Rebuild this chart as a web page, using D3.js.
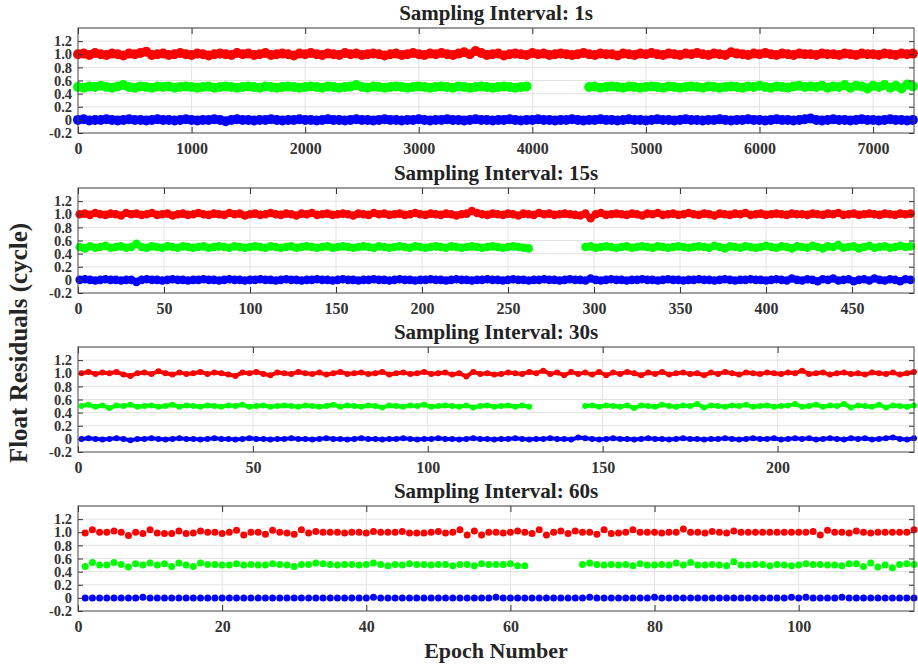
<!DOCTYPE html>
<html>
<head>
<meta charset="utf-8">
<script src="https://cdn.jsdelivr.net/npm/d3@7"></script>
<style>
  body { margin: 0; background: #fff; }
  text { font-family: "Liberation Serif", "Times New Roman", serif; font-weight: bold; }
</style>
</head>
<body>
<div id="chart"></div>
<script>
// float residuals (cycle), one array per series and panel

// 1s panel, stored every 50 epochs (0..7350)
const red1s = [
  1.00,1.01,0.99,1.02,1.00,0.99,1.01,1.00,0.98,1.01,1.00,1.02,1.04,0.99,1.00,1.01,0.99,1.00,1.02,1.00,
  0.99,1.01,1.00,0.98,1.00,1.01,1.00,0.99,1.02,1.00,1.01,0.99,1.00,1.02,0.99,1.00,1.01,1.00,0.98,1.01,
  1.00,1.02,1.00,0.99,1.01,1.00,0.99,1.02,1.00,1.01,0.99,1.00,1.01,1.00,0.98,1.00,1.01,0.99,1.00,1.02,
  1.00,0.99,1.01,1.00,1.02,1.00,0.99,1.01,1.03,1.00,1.05,1.02,0.99,1.00,1.01,0.98,1.00,1.01,1.00,0.99,
  1.02,1.00,1.01,0.99,1.00,1.01,1.00,0.99,1.00,1.02,1.00,0.99,1.01,1.00,1.00,0.98,1.01,1.00,0.99,1.01,
  1.00,1.02,1.00,0.99,1.01,1.00,0.99,1.01,1.00,1.02,1.00,0.99,1.01,1.00,0.99,1.03,1.01,1.00,0.99,1.01,
  1.00,1.02,1.00,0.99,1.01,1.00,0.99,1.01,1.00,1.00,0.99,1.01,1.00,1.00,0.99,1.01,1.00,0.99,1.01,1.00,
  1.00,0.99,1.01,1.00,0.99,1.01,1.00,1.01
];
const green1s = [
  0.50,0.49,0.51,0.50,0.52,0.50,0.49,0.51,0.53,0.50,0.49,0.51,0.50,0.49,0.51,0.50,0.51,0.49,0.50,0.51,
  0.50,0.49,0.50,0.51,0.49,0.50,0.51,0.50,0.49,0.50,0.51,0.50,0.49,0.51,0.50,0.49,0.50,0.51,0.50,0.49,
  0.50,0.51,0.50,0.49,0.51,0.50,0.49,0.50,0.51,0.53,0.50,0.49,0.51,0.50,0.49,0.50,0.51,0.50,0.49,0.50,
  0.51,0.50,0.49,0.50,0.51,0.50,0.49,0.51,0.50,0.49,0.50,0.51,0.50,0.49,0.50,0.51,0.50,0.49,0.50,0.51,
  null,null,null,null,null,null,null,null,null,null,
  0.50,0.51,0.49,0.50,0.51,0.50,0.49,0.51,0.50,0.49,0.50,0.51,0.50,0.49,0.51,0.50,0.49,0.50,0.51,0.50,
  0.49,0.51,0.50,0.49,0.50,0.51,0.50,0.49,0.51,0.50,0.52,0.50,0.49,0.51,0.50,0.49,0.51,0.52,0.50,0.51,
  0.50,0.52,0.49,0.51,0.50,0.53,0.49,0.52,0.51,0.48,0.52,0.50,0.53,0.49,0.52,0.48,0.54,0.51
];
const blue1s = [
  0.00,0.01,-0.01,0.00,0.00,0.01,0.00,-0.01,0.00,0.01,0.00,0.00,-0.01,0.00,0.01,0.00,0.00,-0.01,0.00,0.01,
  0.00,-0.01,0.00,0.00,0.01,0.00,-0.02,0.00,0.01,0.00,0.00,-0.01,0.00,0.00,0.01,0.00,-0.01,0.00,0.00,0.01,
  0.00,0.00,-0.01,0.00,0.01,0.00,0.00,-0.01,0.00,0.01,0.00,0.00,-0.01,0.00,0.01,0.00,0.00,-0.01,0.00,0.00,
  0.01,0.00,-0.01,0.00,0.00,0.01,0.00,0.00,-0.01,0.00,0.01,0.00,0.00,-0.01,0.00,0.00,0.01,0.00,-0.01,0.00,
  0.00,0.01,0.00,0.00,-0.01,0.00,0.00,0.01,0.00,-0.01,0.00,0.00,0.01,0.00,0.00,-0.01,0.00,0.01,0.00,0.00,
  -0.01,0.00,0.01,0.00,0.00,-0.01,0.00,0.01,0.00,0.00,-0.01,0.00,0.00,0.01,0.00,-0.01,0.00,0.00,0.01,0.00,
  0.00,-0.01,0.00,0.01,0.00,0.00,-0.01,0.00,0.01,0.02,0.00,-0.01,0.00,0.01,0.00,0.00,-0.01,0.00,0.01,0.00,
  0.00,-0.01,0.00,0.01,0.00,0.00,-0.01,0.00
];

// 15s panel, stored every 3 epochs (1..484)
const red15s = [
  1.00,1.01,0.99,1.02,1.00,0.99,1.01,1.00,0.98,1.02,1.00,1.01,0.99,1.00,1.02,0.99,1.00,1.01,0.98,1.00,
  1.01,0.99,1.00,1.02,1.00,0.99,1.01,1.00,0.99,1.02,1.00,1.01,0.98,1.00,1.01,0.99,1.00,1.02,1.00,0.99,
  1.01,1.00,0.98,1.01,1.00,1.02,0.99,1.00,1.01,0.99,1.00,1.01,1.00,0.98,1.01,1.00,0.99,1.02,1.00,1.01,
  0.99,1.00,1.01,0.99,1.00,1.02,1.00,0.99,1.01,1.00,0.99,1.01,1.00,0.98,1.00,1.01,1.05,1.02,1.00,0.99,
  1.01,1.00,0.99,1.01,1.00,0.98,1.01,1.00,0.99,1.02,1.00,1.01,0.99,1.00,1.01,1.00,0.99,0.98,1.01,0.94,
  1.00,1.02,0.99,1.00,1.01,1.00,0.99,1.01,1.00,0.98,1.01,1.00,1.02,0.99,1.00,1.01,0.99,1.00,1.02,1.00,
  0.99,1.01,1.00,0.98,1.01,1.00,0.99,1.01,1.00,1.02,0.99,1.00,1.01,0.99,1.00,1.01,1.00,0.99,1.01,1.00,
  1.00,0.99,1.01,1.00,0.99,1.01,1.00,1.02,0.99,1.00,1.01,0.99,1.00,1.01,1.00,0.99,1.01,1.00,0.99,1.01,
  1.00,1.01
];
const green15s = [
  0.50,0.48,0.51,0.49,0.50,0.52,0.49,0.50,0.51,0.49,0.50,0.55,0.50,0.49,0.51,0.50,0.49,0.51,0.50,0.49,
  0.51,0.50,0.49,0.50,0.51,0.49,0.50,0.51,0.50,0.49,0.51,0.50,0.49,0.50,0.51,0.50,0.49,0.51,0.50,0.49,
  0.50,0.51,0.49,0.50,0.51,0.50,0.49,0.50,0.51,0.49,0.50,0.51,0.50,0.49,0.50,0.51,0.50,0.49,0.51,0.50,
  0.49,0.50,0.51,0.50,0.49,0.51,0.50,0.49,0.50,0.51,0.50,0.49,0.51,0.50,0.49,0.50,0.51,0.50,0.49,0.50,
  0.51,0.50,0.49,0.50,0.51,0.50,0.49,0.48,null,null,null,null,null,null,null,null,null,null,0.50,0.51,
  0.49,0.50,0.51,0.50,0.49,0.50,0.51,0.49,0.50,0.51,0.50,0.49,0.51,0.50,0.49,0.50,0.51,0.50,0.49,0.50,
  0.51,0.50,0.49,0.52,0.50,0.48,0.51,0.50,0.49,0.51,0.50,0.49,0.50,0.52,0.50,0.49,0.51,0.50,0.48,0.51,
  0.50,0.49,0.52,0.50,0.48,0.51,0.50,0.53,0.49,0.50,0.51,0.48,0.50,0.52,0.49,0.50,0.51,0.49,0.50,0.52,
  0.50,0.51
];
const blue15s = [
  0.00,0.01,0.00,-0.01,0.00,0.01,0.00,0.00,-0.01,0.00,0.00,-0.03,0.00,0.01,0.00,0.00,-0.01,0.00,0.01,0.00,
  0.00,-0.01,0.00,0.00,0.01,0.00,0.00,-0.01,0.00,0.01,0.00,0.00,-0.01,0.00,0.00,0.01,0.00,0.00,-0.01,0.00,
  0.01,0.00,0.00,-0.01,0.00,0.00,0.01,0.00,0.00,-0.01,0.00,0.01,0.00,0.00,-0.01,0.00,0.00,0.01,0.00,0.00,
  -0.01,0.00,0.01,0.00,0.00,-0.01,0.00,0.00,0.01,0.00,0.00,-0.01,0.00,0.01,0.00,0.00,-0.01,0.00,0.00,0.01,
  0.00,0.00,-0.01,0.00,0.01,0.00,0.00,-0.01,0.00,0.00,0.01,0.00,0.00,-0.01,0.00,0.01,0.00,0.00,-0.01,0.02,
  0.00,-0.01,0.00,0.01,0.00,0.00,-0.01,0.00,0.00,0.01,0.00,0.00,-0.01,0.00,0.01,0.00,0.00,-0.01,0.00,0.00,
  0.01,0.00,0.00,-0.01,0.00,0.01,0.00,-0.01,0.00,0.00,0.01,0.00,0.00,-0.01,0.00,0.01,0.00,-0.01,0.02,0.00,
  -0.01,0.01,0.00,-0.02,0.01,0.00,0.02,-0.01,0.00,0.01,-0.02,0.00,0.01,-0.01,0.02,0.00,-0.01,0.01,0.00,-0.02,
  0.01,0.00
];

// 30s panel, stored every 2 epochs (1..239)
const red30s = [
  1.00,1.02,0.99,1.01,1.00,1.02,0.98,0.96,1.00,1.01,0.99,1.03,1.00,0.98,1.01,0.99,1.00,1.02,0.99,1.01,
  1.00,0.98,0.96,1.01,1.00,1.02,0.99,0.97,1.01,1.00,0.99,1.02,1.00,0.99,1.01,0.98,1.00,1.02,0.99,1.00,
  1.01,0.99,1.00,1.02,0.98,1.00,1.01,0.99,1.00,1.02,0.99,1.00,1.01,0.98,1.00,0.95,1.02,0.99,1.00,0.98,
  0.99,1.01,1.00,0.99,1.02,1.00,1.04,0.99,1.01,0.97,1.02,0.99,1.01,0.98,1.02,0.97,1.01,0.99,1.02,1.00,
  0.97,1.01,0.99,1.02,0.98,1.00,1.01,0.99,1.00,0.97,1.01,0.99,1.02,1.00,0.98,1.01,1.00,0.99,1.01,1.00,
  0.99,1.01,1.00,1.04,0.99,1.00,1.01,0.98,1.00,1.01,0.99,1.00,0.98,1.01,1.00,0.99,1.01,0.98,1.00,1.02
];
const green30s = [
  0.50,0.52,0.49,0.51,0.47,0.51,0.50,0.52,0.49,0.50,0.51,0.49,0.50,0.52,0.49,0.51,0.50,0.49,0.51,0.50,
  0.49,0.51,0.50,0.52,0.49,0.50,0.51,0.49,0.50,0.51,0.50,0.49,0.51,0.50,0.49,0.50,0.52,0.49,0.51,0.50,
  0.49,0.51,0.50,0.48,0.51,0.50,0.49,0.51,0.50,0.52,0.49,0.50,0.51,0.50,0.49,0.51,0.48,0.50,0.51,0.49,
  0.50,0.51,0.49,0.51,0.49,null,null,null,null,null,null,null,0.50,0.51,0.49,0.51,0.50,0.49,0.51,0.47,
  0.51,0.50,0.49,0.52,0.50,0.49,0.51,0.50,0.53,0.48,0.51,0.50,0.49,0.51,0.50,0.52,0.49,0.50,0.51,0.49,
  0.50,0.51,0.53,0.49,0.50,0.52,0.49,0.51,0.50,0.53,0.48,0.51,0.50,0.49,0.52,0.48,0.51,0.50,0.49,0.51
];
const blue30s = [
  0.00,0.01,0.00,-0.01,0.00,0.01,0.00,-0.02,0.00,0.00,0.01,0.00,-0.01,0.00,0.01,0.00,0.00,-0.01,0.00,0.01,
  0.00,0.00,-0.01,0.00,0.01,0.00,0.00,-0.01,0.00,0.00,0.01,0.00,0.00,-0.01,0.00,0.01,0.00,0.00,-0.01,0.00,
  0.01,0.00,0.00,-0.01,0.00,0.00,0.01,0.00,-0.01,0.00,0.00,0.01,0.00,0.00,-0.01,0.00,0.01,0.00,0.00,-0.01,
  0.00,0.00,0.01,0.00,-0.01,0.00,0.00,0.01,0.00,0.00,-0.01,0.02,0.01,0.00,-0.01,0.00,0.01,0.00,0.00,-0.01,
  0.00,0.01,0.00,0.00,-0.01,0.00,0.01,0.00,0.00,-0.01,0.00,0.00,0.01,0.00,-0.01,0.00,0.01,0.00,0.00,0.01,
  -0.01,0.00,0.01,0.00,0.01,-0.01,0.00,0.01,0.00,-0.01,0.01,0.00,0.01,-0.01,0.00,0.01,0.02,0.00,-0.01,0.01
];

// 60s panel, every epoch (1..116)
const red60s = [
  0.99,1.04,1.00,1.00,1.02,1.00,0.95,1.00,0.98,1.04,0.99,0.98,0.98,1.02,0.98,0.99,1.02,1.00,1.00,0.98,
  1.00,1.03,0.96,1.00,1.00,0.97,1.03,1.00,0.99,0.97,1.04,0.99,1.01,1.00,1.00,1.00,0.99,1.00,1.00,0.99,
  1.01,1.00,1.00,1.00,1.01,0.99,0.99,0.99,1.00,1.01,0.99,1.00,1.04,0.96,1.02,0.96,1.00,1.00,0.99,1.00,
  1.02,1.00,0.98,1.04,0.96,1.00,1.02,0.98,1.02,1.00,1.00,0.97,1.04,0.98,0.99,1.00,1.04,1.00,1.00,1.00,
  0.99,1.00,1.00,1.05,1.00,1.00,0.99,1.01,1.00,0.99,1.02,1.00,1.00,1.00,1.00,1.00,1.00,1.00,1.00,1.00,
  1.00,1.01,0.96,1.03,1.00,1.00,0.99,1.02,1.00,0.99,1.00,1.00,1.00,1.00,1.00,1.04
];
const green60s = [
  0.48,0.54,0.50,0.50,0.54,0.51,0.47,0.52,0.50,0.53,0.50,0.52,0.48,0.53,0.50,0.48,0.53,0.51,0.51,0.50,
  0.50,0.52,0.50,0.51,0.50,0.50,0.52,0.51,0.50,0.48,0.51,0.51,0.53,0.52,0.51,0.50,0.51,0.51,0.50,0.51,
  0.53,0.51,0.49,0.51,0.50,0.52,0.51,0.51,0.50,0.51,0.51,0.49,0.51,0.51,0.49,0.52,0.51,0.51,0.51,0.52,
  0.49,0.49,null,null,null,null,null,null,null,0.51,0.53,0.51,0.50,0.51,0.50,0.51,0.49,0.52,0.50,0.50,
  0.51,0.50,0.53,0.50,0.54,0.50,0.50,0.51,0.50,0.49,0.55,0.50,0.50,0.51,0.51,0.49,0.51,0.50,0.49,0.50,
  0.52,0.51,0.51,0.50,0.50,0.49,0.52,0.52,0.48,0.53,0.47,0.50,0.46,0.51,0.52,0.51
];
const blue60s = [
  0.00,0.00,0.00,0.00,0.00,0.00,0.00,0.00,0.01,0.00,0.00,0.00,0.00,0.00,0.00,0.00,0.00,0.00,0.00,0.00,
  0.00,0.00,0.00,0.00,0.00,0.00,0.00,0.00,0.00,0.00,0.00,0.00,0.00,0.00,0.00,0.00,0.00,0.00,0.00,0.00,
  0.01,0.00,0.00,0.00,0.00,0.00,0.00,0.00,0.00,0.00,0.00,0.00,0.00,0.00,0.00,0.00,0.00,0.01,0.00,0.00,
  0.00,0.00,0.00,0.00,0.00,0.00,0.00,0.00,0.00,0.00,0.01,0.00,0.00,0.00,0.00,0.00,0.00,0.00,0.00,0.01,
  0.00,0.00,0.00,0.00,0.00,0.00,0.00,0.00,0.00,0.00,0.00,0.00,0.00,0.00,0.00,0.00,0.00,0.00,0.01,0.00,
  0.01,0.00,0.00,0.00,0.00,0.01,0.00,0.00,0.00,0.00,0.00,0.00,0.00,0.00,0.00,0.00
];

const yTicks = [-0.2, 0, 0.2, 0.4, 0.6, 0.8, 1.0, 1.2];
const seriesColors = ['#ff0000', '#00ff00', '#0000ff'];

// dense panels get a joining stroke so the markers read as a solid trace
const panels = [
  { title: 'Sampling Interval: 1s', xMax: 7360, xTicks: [0,1000,2000,3000,4000,5000,6000,7000],
    epochs: d3.range(0, 7351, 50), series: [red1s, green1s, blue1s], r: 5, join: 7 },
  { title: 'Sampling Interval: 15s', xMax: 486, xTicks: [0,50,100,150,200,250,300,350,400,450],
    epochs: d3.range(1, 485, 3), series: [red15s, green15s, blue15s], r: 4.3, join: 6 },
  { title: 'Sampling Interval: 30s', xMax: 239, xTicks: [0,50,100,150,200],
    epochs: d3.range(1, 240, 2), series: [red30s, green30s, blue30s], r: 3, join: 4 },
  { title: 'Sampling Interval: 60s', xMax: 116, xTicks: [0,20,40,60,80,100],
    epochs: d3.range(1, 117), series: [red60s, green60s, blue60s], r: 3.5, join: 0 }
];

const width = 918;
const height = 666;
const left = 78, right = 914;
const panelTops = [28, 188, 347, 506];
const panelH = 105;

const svg = d3.select('#chart')
  .append('svg')
  .attr('width', width)
  .attr('height', height);

panels.forEach((p, i) => drawPanel(p, panelTops[i]));

// shared axis labels
svg.append('text')
  .attr('transform', 'translate(27,' + 343 + ') rotate(-90)')
  .attr('text-anchor', 'middle')
  .style('font-size', '25px')
  .attr('fill', '#262626')
  .text('Float Residuals (cycle)');

svg.append('text')
  .attr('x', (left + right) / 2)
  .attr('y', 658)
  .attr('text-anchor', 'middle')
  .style('font-size', '22px')
  .attr('fill', '#262626')
  .text('Epoch Number');

function drawPanel(p, top) {
  const bottom = top + panelH;
  const x = d3.scaleLinear().domain([0, p.xMax]).range([left, right]);
  const y = d3.scaleLinear().domain([-0.2, 1.4]).range([bottom, top]);

  const g = svg.append('g');

  // grid
  g.append('g').selectAll('line')
    .data(p.xTicks.slice(1))
    .join('line')
    .attr('x1', d => x(d)).attr('x2', d => x(d))
    .attr('y1', top).attr('y2', bottom)
    .attr('stroke', '#e3e3e3');
  g.append('g').selectAll('line')
    .data(yTicks.concat([1.4]).slice(1))
    .join('line')
    .attr('x1', left).attr('x2', right)
    .attr('y1', d => y(d)).attr('y2', d => y(d))
    .attr('stroke', '#e3e3e3');

  // points
  p.series.forEach((vals, k) => {
    const pts = p.epochs.map((e, j) => [e, vals[j]]);
    if (p.join > 0) {
      const line = d3.line()
        .defined(d => d[1] !== null)
        .x(d => x(d[0]))
        .y(d => y(d[1]));
      g.append('path')
        .datum(pts)
        .attr('d', line)
        .attr('fill', 'none')
        .attr('stroke', seriesColors[k])
        .attr('stroke-width', p.join)
        .attr('stroke-linejoin', 'round');
    }
    g.append('g').selectAll('circle')
      .data(pts.filter(d => d[1] !== null))
      .join('circle')
      .attr('cx', d => x(d[0]))
      .attr('cy', d => y(d[1]))
      .attr('r', p.r)
      .attr('fill', seriesColors[k]);
  });

  // axes, MATLAB style box with inward ticks
  const fmtY = d => d === 0 ? '0' : d.toFixed(1);
  const xb = g.append('g').attr('transform', 'translate(0,' + bottom + ')')
    .call(d3.axisBottom(x).tickValues(p.xTicks).tickSizeInner(-6).tickSizeOuter(0)
      .tickPadding(10).tickFormat(d3.format('d')));
  g.append('g').attr('transform', 'translate(0,' + top + ')')
    .call(d3.axisTop(x).tickValues(p.xTicks).tickSizeInner(-6).tickSizeOuter(0).tickFormat(''));
  const yl = g.append('g').attr('transform', 'translate(' + left + ',0)')
    .call(d3.axisLeft(y).tickValues(yTicks).tickSizeInner(-5).tickSizeOuter(0).tickPadding(6).tickFormat(fmtY));
  g.append('g').attr('transform', 'translate(' + right + ',0)')
    .call(d3.axisRight(y).tickValues(yTicks).tickSizeInner(-5).tickSizeOuter(0).tickFormat(''));

  g.selectAll('.domain').remove();
  g.selectAll('.tick line').attr('stroke', '#333');
  xb.selectAll('text').style('font-size', '16px');
  yl.selectAll('text').style('font-size', '14.5px');
  [xb, yl].forEach(a => a.selectAll('text')
    .style('font-family', '"Liberation Serif", "Times New Roman", serif')
    .style('font-weight', 'bold')
    .attr('fill', '#333'));

  g.append('rect')
    .attr('x', left).attr('y', top)
    .attr('width', right - left).attr('height', panelH)
    .attr('fill', 'none')
    .attr('stroke', '#444');

  svg.append('text')
    .attr('x', (left + right) / 2)
    .attr('y', top - 8)
    .attr('text-anchor', 'middle')
    .style('font-size', '21px')
    .attr('fill', '#222')
    .text(p.title);
}
</script>
</body>
</html>
